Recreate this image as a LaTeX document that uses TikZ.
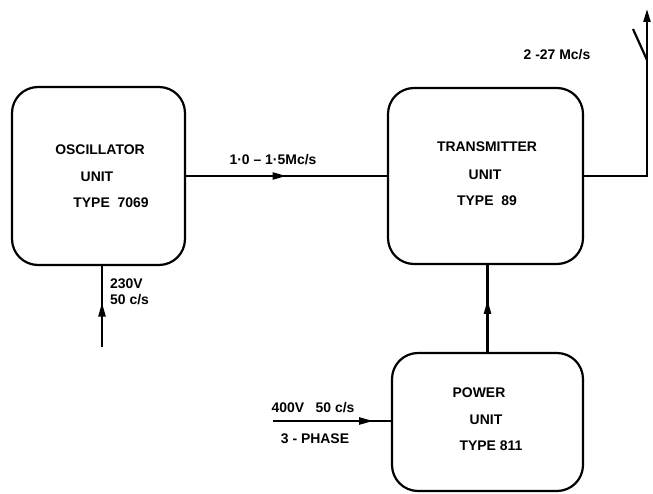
\documentclass[tikz,border=0pt]{standalone}
\usepackage{fontspec}
\setmainfont{Liberation Sans}
\usetikzlibrary{arrows.meta,decorations.markings}
\begin{document}
\begin{tikzpicture}[x=1bp,y=-1bp,
  unit/.style={draw,line width=2.2bp,rounded corners=26bp,inner sep=0pt},
  wire/.style={line width=2.2bp},
  lbl/.style={font=\bfseries\fontsize{14}{16}\selectfont,inner sep=0pt},
  midarrow/.style={postaction={decorate},decoration={markings,
     mark=at position #1 with {\arrow{Triangle[length=14bp,width=7bp]}}}}]
\useasboundingbox (0,0) rectangle (653,494);
% boxes
\node[unit,minimum width=173bp,minimum height=178bp] (osc) at (98.5,176) {};
\node[unit,minimum width=195bp,minimum height=176bp] (trans) at (485.5,176) {};
\node[unit,minimum width=191bp,minimum height=138bp] (pow) at (487.5,422) {};
% box texts
\node[lbl] (t1) at (100,150) {OSCILLATOR};
\node[lbl] (t2) at (97,177) {UNIT};
\node[lbl] (t3) at (111,203) {TYPE\ \ 7069};
\node[lbl] (t4) at (487,147) {TRANSMITTER};
\node[lbl] (t5) at (485,175) {UNIT};
\node[lbl] (t6) at (487,201) {TYPE\ \ 89};
\node[lbl] (t7) at (479,393) {POWER};
\node[lbl] (t8) at (486,420) {UNIT};
\node[lbl] (t9) at (491,446) {TYPE 811};
% connectors
\draw[wire,midarrow=0.5] (osc.east) -- (trans.west);
\node[lbl] (f1) at (273,160) {1·0 – 1·5Mc/s};
\coordinate (ant) at (647,9);
\coordinate (antv) at (647,60);
\coordinate (antl) at (633,29);
\draw[wire] (trans.east) -| (antv);
\draw[wire,-{Triangle[length=13bp,width=7bp]}] (antv) -- (ant);
\draw[wire] (antv) -- (antl);
\node[lbl] (f2) at (557,55) {2 -27 Mc/s};
\draw[wire,midarrow=0.6] (pow.north) -- (pow.north |- trans.south);
\coordinate (oscin) at (102,347);
\draw[wire,midarrow=0.55] (oscin) -- (oscin |- osc.south);
\node[lbl,align=left,anchor=west] (v1) at (110,292) {230V\\50 c/s};
\coordinate (powin) at (273,421);
\draw[wire,midarrow=0.85] (powin) -- (powin -| pow.west);
\node[lbl] (v2) at (313,408) {400V\ \ \ 50 c/s};
\node[lbl] (v3) at (315,439) {3 - PHASE};
\end{tikzpicture}
\end{document}
